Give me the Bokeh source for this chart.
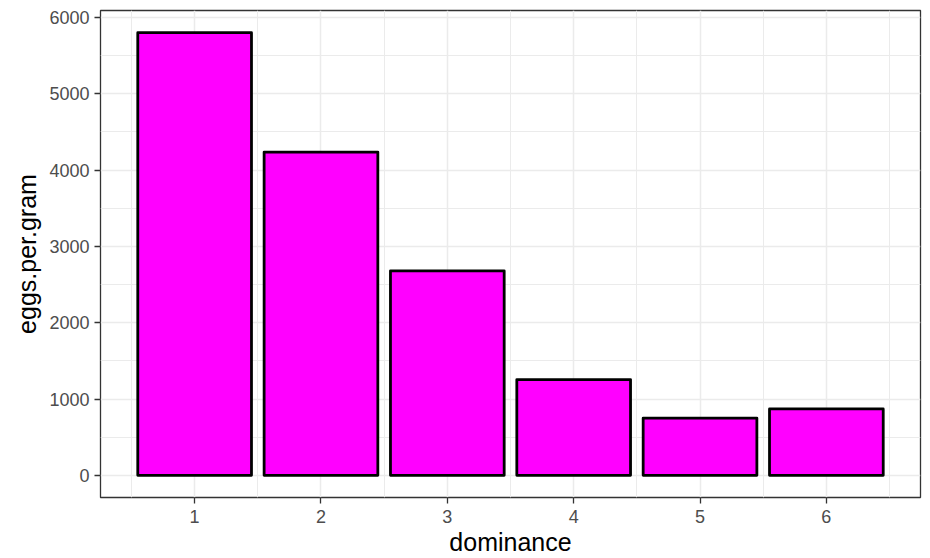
from bokeh.plotting import figure
from bokeh.models import FixedTicker, Range1d, ColumnDataSource
from bokeh.embed import file_html
from bokeh.resources import INLINE

dominance = [1, 2, 3, 4, 5, 6]
eggs_per_gram = [5800, 4235, 2680, 1255, 750, 870]
x_ticks = [1, 2, 3, 4, 5, 6]
x_minor = [0.5, 1.5, 2.5, 3.5, 4.5, 5.5, 6.5]
y_ticks = [0, 1000, 2000, 3000, 4000, 5000, 6000]
y_minor = [500, 1500, 2500, 3500, 4500, 5500]

src = ColumnDataSource(dict(x=dominance, y=eggs_per_gram))

p = figure(width=930, height=558, output_backend="svg", toolbar_location=None,
           x_range=Range1d(0.255, 6.745), y_range=Range1d(-290, 6090),
           min_border_left=100, min_border_right=10, min_border_top=10, min_border_bottom=60)

p.vbar(x="x", top="y", bottom=0, width=0.9, source=src,
       fill_color="#FF00FF", line_color="black", line_width=2.8, line_join="round")

p.xaxis.ticker = FixedTicker(ticks=x_ticks, minor_ticks=x_minor)
p.yaxis.ticker = FixedTicker(ticks=y_ticks, minor_ticks=y_minor)

for ax in (p.xaxis, p.yaxis):
    ax.axis_line_color = None
    ax.major_tick_in = 0
    ax.major_tick_out = 6
    ax.major_tick_line_color = "#333333"
    ax.major_tick_line_width = 1.3
    ax.minor_tick_line_color = None
    ax.major_label_text_font = "Liberation Sans"
    ax.major_label_text_font_size = "18px"
    ax.major_label_text_color = "#4D4D4D"
    ax.axis_label_text_font = "Liberation Sans"
    ax.axis_label_text_font_size = "25px"
    ax.axis_label_text_font_style = "normal"
    ax.axis_label_text_color = "black"

p.xaxis.axis_label = "dominance"
p.yaxis.axis_label = "eggs.per.gram"
p.xaxis.major_label_standoff = 6
p.xaxis.axis_label_standoff = 2
p.yaxis.major_label_standoff = 5
p.yaxis.axis_label_standoff = 5

for g in (p.xgrid, p.ygrid):
    g.grid_line_color = "#EBEBEB"
    g.grid_line_width = 1.5
    g.minor_grid_line_color = "#EBEBEB"
    g.minor_grid_line_width = 1

p.outline_line_color = "#333333"
p.outline_line_width = 1.3
p.background_fill_color = "white"
p.border_fill_color = "white"

open("out.html", "w").write(file_html(p, INLINE))
